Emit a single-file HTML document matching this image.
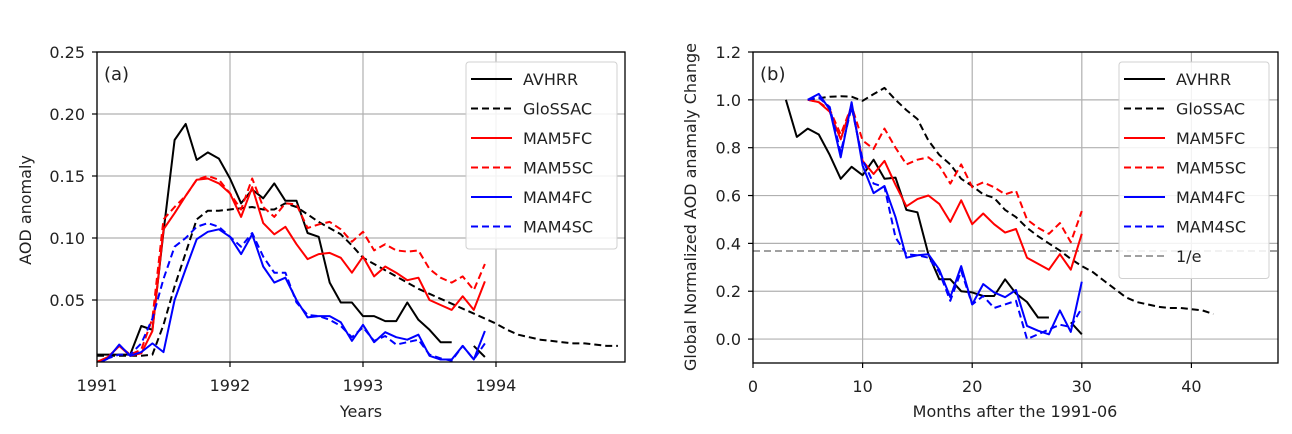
<!DOCTYPE html>
<html><head><meta charset="utf-8"><style>
body{margin:0;background:#fff;width:1292px;height:434px;overflow:hidden}
svg{display:block;font-family:"DejaVu Sans","Liberation Sans",sans-serif}
</style></head><body>
<svg id="fig" width="1292" height="434" viewBox="0 0 1292 434">
<defs>
<clipPath id="clipA"><rect x="97" y="52" width="528" height="310"/></clipPath>
<clipPath id="clipB"><rect x="753" y="52" width="525" height="311"/></clipPath>
</defs>
</svg>
<script>
// ---------- Panel (a) data (monthly from 1991-01) ----------
const aAVHRR=[0.006,0.006,0.006,0.006,0.029,0.026,0.105,0.179,0.192,0.163,0.169,0.164,0.148,0.128,0.139,0.132,0.144,0.130,0.130,0.104,0.101,0.064,0.048,0.048,0.037,0.037,0.033,0.033,0.048,0.034,0.026,0.016,0.016,null,0.013,0.004];
const aGloSSAC=[0.005,0.005,0.005,0.005,0.005,0.006,0.030,0.061,0.088,0.115,0.122,0.122,0.123,0.124,0.125,0.123,0.123,0.128,0.125,0.119,0.113,0.108,0.103,0.094,0.084,0.079,0.074,0.069,0.064,0.059,0.055,0.051,0.047,0.043,0.039,0.035,0.031,0.026,0.022,0.020,0.018,0.017,0.016,0.015,0.015,0.014,0.013,0.013];
const aMAM5FC=[0.0,0.004,0.013,0.005,0.007,0.025,0.107,0.120,0.134,0.147,0.148,0.144,0.136,0.117,0.141,0.112,0.103,0.109,0.095,0.083,0.087,0.088,0.084,0.072,0.085,0.069,0.077,0.072,0.066,0.068,0.050,0.046,0.042,0.053,0.042,0.065];
const aMAM5SC=[0.0,0.004,0.013,0.006,0.010,0.035,0.115,0.125,0.134,0.147,0.150,0.147,0.136,0.123,0.148,0.125,0.117,0.128,0.127,0.108,0.111,0.113,0.107,0.097,0.105,0.090,0.095,0.090,0.089,0.090,0.075,0.068,0.064,0.069,0.058,0.079];
const aMAM4FC=[-0.002,0.003,0.014,0.005,0.008,0.015,0.008,0.050,0.075,0.099,0.105,0.107,0.101,0.087,0.103,0.077,0.064,0.068,0.050,0.036,0.037,0.037,0.032,0.017,0.030,0.016,0.024,0.020,0.018,0.022,0.005,0.002,0.002,0.013,0.002,0.025];
const aMAM4SC=[-0.003,0.003,0.006,0.006,0.015,0.035,0.067,0.093,0.100,0.109,0.112,0.109,0.101,0.093,0.104,0.085,0.072,0.072,0.048,0.038,0.037,0.034,0.029,0.020,0.028,0.017,0.021,0.014,0.016,0.018,0.006,0.003,0.001,0.013,0.002,0.015];
const aXTicks=[1991,1992,1993,1994];
const aYTicks=[0.05,0.10,0.15,0.20,0.25];
const aYTickLabels=["0.05","0.10","0.15","0.20","0.25"];
// ---------- Panel (b) data ----------
const bAVHRR_start=3;
const bAVHRR=[1.0,0.845,0.88,0.855,0.77,0.67,0.72,0.685,0.75,0.67,0.675,0.54,0.53,0.355,0.25,0.25,0.20,0.195,0.18,0.18,0.25,0.19,0.155,0.09,0.09,null,0.07,0.02];
const bGloSSAC_start=5;
const bGloSSAC=[1.0,1.007,1.013,1.015,1.013,0.996,1.024,1.05,1.0,0.957,0.92,0.83,0.77,0.73,0.67,0.64,0.605,0.59,0.54,0.51,0.465,0.43,0.40,0.37,0.335,0.305,0.28,0.245,0.21,0.175,0.155,0.145,0.135,0.13,0.13,0.125,0.12,0.105];
const bModel_start=5;
const bMAM5FC=[1.0,0.99,0.95,0.835,0.975,0.745,0.69,0.745,0.645,0.555,0.585,0.60,0.565,0.49,0.58,0.48,0.525,0.48,0.445,0.46,0.34,0.315,0.29,0.355,0.29,0.44];
const bMAM5SC=[1.0,0.99,0.96,0.855,0.975,0.83,0.795,0.88,0.80,0.73,0.75,0.76,0.725,0.65,0.73,0.635,0.655,0.635,0.605,0.62,0.50,0.465,0.44,0.485,0.405,0.535];
const bMAM4FC=[1.0,1.025,0.96,0.76,0.99,0.725,0.61,0.64,0.51,0.34,0.35,0.355,0.29,0.175,0.305,0.145,0.23,0.195,0.175,0.205,0.055,0.035,0.02,0.12,0.03,0.24];
const bMAM4SC=[1.0,1.01,0.97,0.78,0.97,0.75,0.65,0.635,0.425,0.355,0.35,0.34,0.28,0.16,0.285,0.145,0.18,0.13,0.145,0.16,0.0,0.02,0.04,0.06,0.05,0.13];
const bEinv=0.368;
const bXTicks=[0,10,20,30,40];
const bYTicks=[0.0,0.2,0.4,0.6,0.8,1.0,1.2];
const bYTickLabels=["0.0","0.2","0.4","0.6","0.8","1.0","1.2"];

const NS="http://www.w3.org/2000/svg";
const svg=document.getElementById('fig');
function mk(tag,attrs,parent){const e=document.createElementNS(NS,tag);for(const k in attrs)e.setAttribute(k,attrs[k]);(parent||svg).appendChild(e);return e;}

const A={l:97,r:625,t:52,b:362,x0:1991,x1:1994.97,y0:0,y1:0.25};
const B={l:753,r:1278,t:52,b:363,x0:0,x1:47.9,y0:-0.1,y1:1.2};
function sx(ax,v){return ax.l+(v-ax.x0)/(ax.x1-ax.x0)*(ax.r-ax.l);}
function sy(ax,v){return ax.b-(v-ax.y0)/(ax.y1-ax.y0)*(ax.b-ax.t);}

function grid(ax,xt,yt,ytl,xtl,gname){
  const g=mk('g',{});
  
  
  xt.forEach((v,i)=>{const x=sx(ax,v);
    mk('line',{x1:x,x2:x,y1:ax.t,y2:ax.b,stroke:'#b0b0b0','stroke-width':1.2},g);
    mk('line',{x1:x,x2:x,y1:ax.b,y2:ax.b+5,stroke:'#000','stroke-width':1.2},g);
    const t=mk('text',{x:x,y:ax.b+29,'text-anchor':'middle','font-size':16,fill:'#222'},g);
    t.textContent=xtl[i];
    
    
  });
  yt.forEach((v,i)=>{const y=sy(ax,v);
    mk('line',{x1:ax.l,x2:ax.r,y1:y,y2:y,stroke:'#b0b0b0','stroke-width':1.2},g);
    mk('line',{x1:ax.l-5,x2:ax.l,y1:y,y2:y,stroke:'#000','stroke-width':1.2},g);
    const t=mk('text',{x:ax.l-12,y:y+6,'text-anchor':'end','font-size':16,fill:'#222'},g);
    t.textContent=ytl[i];
    
    
  });
}
function series(ax,start,vals,color,dash,clip,name){
  let d='',pen=false;
  vals.forEach((v,i)=>{
    if(v===null){pen=false;return;}
    d+=(pen?'L':'M')+sx(ax,start(i)).toFixed(1)+','+sy(ax,v).toFixed(1);pen=true;
  });
  const p=mk('path',{d:d,fill:'none',stroke:color,'stroke-width':2,'stroke-linejoin':'round','clip-path':'url(#'+clip+')'});
  if(dash)p.setAttribute('stroke-dasharray','7,4');
  
  
}
function legend(x,y,w,entries,name){
  const g=mk('g',{});
  
  
  mk('rect',{x:x,y:y,width:w,height:entries.length*29.5+10,rx:3,fill:'#fff','fill-opacity':0.85,stroke:'#d0d0d0'},g);
  entries.forEach((e,i)=>{const yy=y+17+i*29.5;
    const l=mk('line',{x1:x+5,x2:x+46,y1:yy,y2:yy,stroke:e[1],'stroke-width':2},g);
    if(e[2])l.setAttribute('stroke-dasharray','7,4');
    const t=mk('text',{x:x+57,y:yy+6,'font-size':16,fill:'#222'},g);
    t.textContent=e[0];
    
    
  });
}

// Panel A
grid(A,aXTicks,aYTicks,aYTickLabels,aXTicks.map(String),'panel-a');
const mA=i=>1991+i/12;
series(A,mA,aGloSSAC,'#000',true,'clipA','glossac-line-a');
series(A,mA,aAVHRR,'#000',false,'clipA','avhrr-line-a');
series(A,mA,aMAM5SC,'#ff0000',true,'clipA','mam5sc-line-a');
series(A,mA,aMAM5FC,'#ff0000',false,'clipA','mam5fc-line-a');
series(A,mA,aMAM4SC,'#0000ff',true,'clipA','mam4sc-line-a');
series(A,mA,aMAM4FC,'#0000ff',false,'clipA','mam4fc-line-a');
mk('rect',{x:A.l,y:A.t,width:A.r-A.l,height:A.b-A.t,fill:'none',stroke:'#000','stroke-width':1.3});
legend(466,62,151,[['AVHRR','#000',0],['GloSSAC','#000',1],['MAM5FC','#f00',0],['MAM5SC','#f00',1],['MAM4FC','#00f',0],['MAM4SC','#00f',1]],'legend-a');

// Panel B
grid(B,bXTicks,bYTicks,bYTickLabels,bXTicks.map(String),'panel-b');
const ein=mk('line',{x1:B.l,x2:B.r,y1:sy(B,bEinv),y2:sy(B,bEinv),stroke:'#a0a0a0','stroke-width':2,'stroke-dasharray':'7,4'});


series(B,i=>bGloSSAC_start+i,bGloSSAC,'#000',true,'clipB','glossac-line-b');
series(B,i=>bAVHRR_start+i,bAVHRR,'#000',false,'clipB','avhrr-line-b');
series(B,i=>bModel_start+i,bMAM5SC,'#ff0000',true,'clipB','mam5sc-line-b');
series(B,i=>bModel_start+i,bMAM5FC,'#ff0000',false,'clipB','mam5fc-line-b');
series(B,i=>bModel_start+i,bMAM4SC,'#0000ff',true,'clipB','mam4sc-line-b');
series(B,i=>bModel_start+i,bMAM4FC,'#0000ff',false,'clipB','mam4fc-line-b');
mk('rect',{x:B.l,y:B.t,width:B.r-B.l,height:B.b-B.t,fill:'none',stroke:'#000','stroke-width':1.3});
legend(1119,62,150,[['AVHRR','#000',0],['GloSSAC','#000',1],['MAM5FC','#f00',0],['MAM5SC','#f00',1],['MAM4FC','#00f',0],['MAM4SC','#00f',1],['1/e','#a0a0a0',1]],'legend-b');

function txt(x,y,s,size,name,rot,anchor){
  const t=mk('text',{x:x,y:y,'font-size':size,fill:'#222','text-anchor':anchor||'middle'});
  if(rot)t.setAttribute('transform','rotate(-90 '+x+' '+y+')');
  t.textContent=s;
  
  
}
txt(104,80,'(a)',18,'panel-a-label',0,'start');
txt(760,80,'(b)',18,'panel-b-label',0,'start');
txt(361,417,'Years',16,'x-axis-title-a');
txt(1015,417,'Months after the 1991-06',16,'x-axis-title-b');
txt(31,210,'AOD anomaly',16,'y-axis-title-a',1);
txt(696,207,'Global Normalized AOD anamaly Change',16,'y-axis-title-b',1);
</script>
</body></html>
